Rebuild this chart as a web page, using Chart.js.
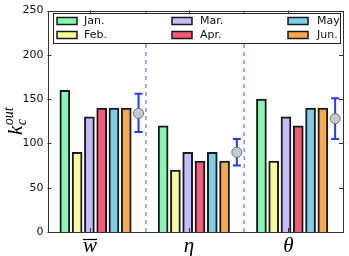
<!DOCTYPE html>
<html>
<head>
<meta charset="utf-8">
<script src="https://cdn.jsdelivr.net/npm/chart.js@4"></script>
<style>
  html, body { margin: 0; padding: 0; background: #fff; }
  #wrap { width: 349px; height: 256px; position: relative; }
</style>
</head>
<body>
<div id="wrap"><canvas id="c" width="349" height="256"></canvas></div>
<script>
// ---- data ----
const categories = ['w', 'η', 'θ'];          // x tick labels (w drawn with overline)
const months = ['Jan.', 'Feb.', 'Mar.', 'Apr.', 'May', 'Jun.'];
const jan = [160, 120, 150];
const feb = [90, 70, 80];
const mar = [130, 90, 130];
const apr = [140, 80, 120];
const may = [140, 90, 140];
const jun = [140, 80, 140];
const meanVals = [134, 90, 128];
const errLow = [113, 75, 105];
const errHigh = [156, 105, 151];
const yTicks = [0, 50, 100, 150, 200, 250];
const colors = ['#88f5b2', '#f9fa9c', '#c2bef8', '#fa5a7a', '#7ecfe8', '#fca84c'];

const series = [jan, feb, mar, apr, may, jun];
const GROUP = 8;              // slots per group
const POINT_OFF = 6;          // mean point offset in slots
const SEP_OFF = 6.6;          // dashed separator offset
const LABEL_OFF = [2.05, 10.1, 18.2];

const datasets = [];
// dashed separators
[0, 1].forEach(g => {
  datasets.push({
    type: 'line',
    data: [{x: g * GROUP + SEP_OFF, y: 0}, {x: g * GROUP + SEP_OFF, y: 250}],
    borderColor: '#8090ff', borderWidth: 1.5, borderDash: [4, 4],
    pointRadius: 0, order: 10
  });
});
series.forEach((s, m) => {
  datasets.push({
    type: 'bar',
    label: months[m],
    data: s.map((v, g) => ({x: g * GROUP + m, y: v})),
    backgroundColor: colors[m],
    borderColor: '#1a1a1a', borderWidth: 2,
    barThickness: 10, grouped: false, order: 5
  });
});
categories.forEach((c, g) => {
  datasets.push({
    type: 'line',
    data: [{x: g * GROUP + POINT_OFF, y: errLow[g]}, {x: g * GROUP + POINT_OFF, y: errHigh[g]}],
    borderColor: '#1f3cff', borderWidth: 2,
    pointStyle: 'line', pointRadius: 4, pointBorderWidth: 2,
    pointBorderColor: '#1f3cff', order: 2
  });
});
datasets.push({
  type: 'line', showLine: false,
  data: categories.map((c, g) => ({x: g * GROUP + POINT_OFF, y: meanVals[g]})),
  pointRadius: 5, pointBackgroundColor: '#c3cbcf', pointBorderColor: '#6a7070',
  pointBorderWidth: 1, order: 1
});

const deco = {
  id: 'deco',
  afterDatasetsDraw(chart) {
    const ctx = chart.ctx, a = chart.chartArea, xs = chart.scales.x, ys = chart.scales.y;
    ctx.save();
    // frame
    ctx.strokeStyle = '#333'; ctx.lineWidth = 1;
    ctx.strokeRect(Math.round(a.left) + 0.5, Math.round(a.top) + 0.5,
                   Math.round(a.right - a.left) - 1, Math.round(a.bottom - a.top));
    // inward ticks
    ctx.beginPath();
    yTicks.forEach(v => {
      const y = Math.round(ys.getPixelForValue(v)) + 0.5;
      ctx.moveTo(a.left, y); ctx.lineTo(a.left + 4, y);
      ctx.moveTo(a.right, y); ctx.lineTo(a.right - 4, y);
    });
    LABEL_OFF.forEach(v => {
      const x = Math.round(xs.getPixelForValue(v)) + 0.5;
      ctx.moveTo(x, a.top); ctx.lineTo(x, a.top + 4);
      ctx.moveTo(x, a.bottom); ctx.lineTo(x, a.bottom - 4);
    });
    ctx.stroke();
    // overline for w
    const wx = xs.getPixelForValue(LABEL_OFF[0]);
    ctx.beginPath(); ctx.lineWidth = 1.2; ctx.strokeStyle = '#000';
    ctx.moveTo(wx - 7, 239.5); ctx.lineTo(wx + 7, 239.5); ctx.stroke();
    // legend
    ctx.fillStyle = '#fff'; ctx.strokeStyle = '#222'; ctx.lineWidth = 1;
    ctx.fillRect(53, 13, 288, 30); ctx.strokeRect(53.5, 13.5, 287, 30);
    const colX = [[57, 84], [172, 200], [288, 317]];
    const rowY = [21, 35];
    ctx.font = '11px "DejaVu Sans"'; ctx.textBaseline = 'middle'; ctx.textAlign = 'left';
    months.forEach((mname, i) => {
      const col = Math.floor(i / 2), row = i % 2;
      const sx = colX[col][0], tx = colX[col][1], cy = rowY[row];
      ctx.fillStyle = colors[i];
      ctx.fillRect(sx, cy - 3.5, 20, 7);
      ctx.lineWidth = 1.5; ctx.strokeStyle = '#1a1a1a';
      ctx.strokeRect(sx, cy - 3.5, 20, 7);
      ctx.fillStyle = '#111';
      ctx.fillText(mname, tx, cy + 0.5);
    });
    // y axis label k_c^out
    ctx.translate(22, 131); ctx.rotate(-Math.PI / 2);
    ctx.fillStyle = '#000'; ctx.textBaseline = 'alphabetic';
    ctx.font = 'italic 21px "Liberation Serif"';
    ctx.fillText('k', -4, 0);
    const kw = ctx.measureText('k').width;
    ctx.font = 'italic 14px "Liberation Serif"';
    ctx.fillText('c', -4 + kw + 0.5, 4);
    ctx.fillText('out', -4 + kw + 0.5, -9);
    ctx.restore();
  }
};

new Chart(document.getElementById('c'), {
  type: 'bar',
  data: { datasets },
  plugins: [deco],
  options: {
    responsive: false, animation: false, devicePixelRatio: 1,
    layout: { padding: { top: 7, right: 3, left: 0, bottom: 0 } },
    plugins: { legend: { display: false }, tooltip: { enabled: false } },
    scales: {
      x: {
        type: 'linear', min: -1.41, max: 22.64, offset: false,
        grid: { display: false, drawTicks: false, offset: false },
        border: { display: false },
        afterBuildTicks: s => { s.ticks = LABEL_OFF.map(v => ({value: v})); },
        afterFit: s => { s.height = 24; },
        ticks: {
          padding: 2, color: '#000',
          font: { family: 'Liberation Serif', style: 'italic', size: 21 },
          callback: (v, i) => categories[i],
          maxRotation: 0, autoSkip: false
        }
      },
      y: {
        min: 0, max: 250,
        grid: { display: false, drawTicks: false },
        border: { display: false },
        afterBuildTicks: s => { s.ticks = yTicks.map(v => ({value: v})); },
        afterFit: s => { s.width = 47.5; },
        ticks: { padding: 4, color: '#111', font: { family: 'DejaVu Sans', size: 11 } }
      }
    }
  }
});
</script>
</body>
</html>
